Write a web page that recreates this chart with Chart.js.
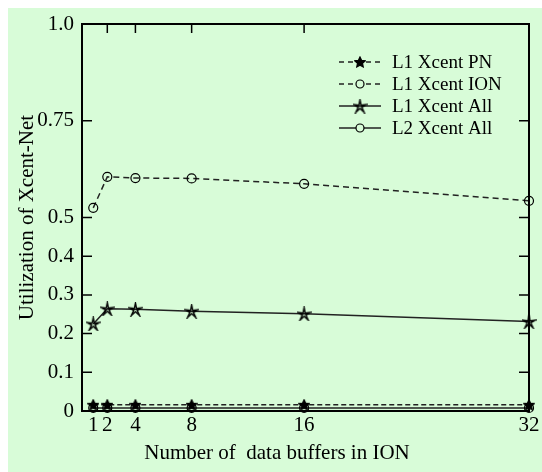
<!DOCTYPE html>
<html>
<head>
<meta charset="utf-8">
<script src="https://cdn.jsdelivr.net/npm/chart.js@4/dist/chart.umd.min.js"></script>
<style>
  html, body { margin: 0; padding: 0; background: #fff; }
  canvas { display: block; }
</style>
</head>
<body>
<canvas id="chart" width="542" height="472"></canvas>
<script>
// data
const buffers = [1, 2, 4, 8, 16, 32];
const l1PN = [0.016, 0.016, 0.016, 0.016, 0.016, 0.016];
const l1ION = [0.525, 0.605, 0.602, 0.601, 0.587, 0.543];
const l1All = [0.225, 0.264, 0.263, 0.258, 0.251, 0.231];
const l2All = [0.008, 0.008, 0.008, 0.008, 0.008, 0.008];
const seriesNames = ["L1 Xcent PN", "L1 Xcent ION", "L1 Xcent All", "L2 Xcent All"];
const yTicks = [0, 0.1, 0.2, 0.3, 0.4, 0.5, 0.75, 1.0];
const yTickLabels = ["0", "0.1", "0.2", "0.3", "0.4", "0.5", "0.75", "1.0"];
const xTitle = "Number of  data buffers in ION";
const yTitle = "Utilization of Xcent-Net";

const GREEN = "#d8fcd8";
const FONT = "'Liberation Serif', 'Times New Roman', serif";

function makeStar(size, filled) {
  const c = document.createElement("canvas");
  c.width = size;
  c.height = size;
  const g = c.getContext("2d");
  const cx = size / 2, cy = size / 2 + size * 0.04;
  g.beginPath();
  for (let i = 0; i < 10; i++) {
    const r = i % 2 ? size * (filled ? 0.22 : 0.12) : size * 0.46;
    const a = -Math.PI / 2 + i * Math.PI / 5;
    const px = cx + r * Math.cos(a), py = cy + r * Math.sin(a);
    if (i === 0) g.moveTo(px, py); else g.lineTo(px, py);
  }
  g.closePath();
  g.strokeStyle = "#000";
  g.lineWidth = filled ? 1.2 : 1.4;
  if (filled) { g.fillStyle = "#000"; g.fill(); }
  g.stroke();
  return c;
}

const starOpen = makeStar(15, false);
const starFilled = makeStar(12, true);

const toXY = vals => vals.map((v, i) => ({ x: buffers[i], y: v }));

const datasets = [
  {
    label: seriesNames[0], data: toXY(l1PN),
    borderColor: "#222", borderWidth: 1.5, borderDash: [5, 3],
    pointStyle: starFilled, pointRadius: 6, clip: false
  },
  {
    label: seriesNames[1], data: toXY(l1ION),
    borderColor: "#222", borderWidth: 1.5, borderDash: [6, 4],
    pointStyle: "circle", pointRadius: 4.5, pointBorderWidth: 1.2,
    pointBorderColor: "#000", pointBackgroundColor: "rgba(0,0,0,0)", clip: false
  },
  {
    label: seriesNames[2], data: toXY(l1All),
    borderColor: "#222", borderWidth: 1.5,
    pointStyle: starOpen, pointRadius: 7, clip: false
  },
  {
    label: seriesNames[3], data: toXY(l2All),
    borderColor: "#222", borderWidth: 1.5,
    pointStyle: "circle", pointRadius: 4.5, pointBorderWidth: 1.2,
    pointBorderColor: "#000", pointBackgroundColor: "rgba(0,0,0,0)", clip: false
  }
];

const decor = {
  id: "decor",
  beforeDraw(chart) {
    const c = chart.ctx;
    c.save();
    c.fillStyle = GREEN;
    c.fillRect(8, 8, chart.width - 8, chart.height - 8);
    c.restore();
  },
  afterDatasetsDraw(chart) {
    const c = chart.ctx;
    const a = chart.chartArea;
    const xs = chart.scales.x, ys = chart.scales.y;
    c.save();
    c.strokeStyle = "#000";
    c.lineWidth = 2;
    c.strokeRect(a.left, a.top, a.right - a.left, a.bottom - a.top);

    c.lineWidth = 1.5;
    c.beginPath();
    yTicks.forEach(v => {
      const y = ys.getPixelForValue(v);
      if (v > 0 && v < 1) {
        c.moveTo(a.left, y); c.lineTo(a.left + 10, y);
        c.moveTo(a.right, y); c.lineTo(a.right - 10, y);
      }
    });
    buffers.forEach(v => {
      if (v > 1 && v < 32) {
        const x = xs.getPixelForValue(v);
        c.moveTo(x, a.top); c.lineTo(x, a.top + 9);
      }
    });
    c.stroke();

    // axis titles
    c.fillStyle = "#000";
    c.font = "21px " + FONT;
    c.textAlign = "center";
    c.textBaseline = "middle";
    c.fillText(xTitle, 277, 453);
    c.translate(27, (a.top + a.bottom) / 2);
    c.rotate(-Math.PI / 2);
    c.fillText(yTitle, 0, 0);
    c.restore();

    // legend
    c.save();
    const rows = [62, 84, 106, 128];
    c.font = "19px " + FONT;
    c.textBaseline = "middle";
    c.textAlign = "left";
    chart.data.datasets.forEach((ds, i) => {
      const y = rows[i];
      c.strokeStyle = "#222";
      c.lineWidth = 1.5;
      c.setLineDash(ds.borderDash ? [5, 4] : []);
      c.beginPath();
      c.moveTo(339, y); c.lineTo(381, y);
      c.stroke();
      c.setLineDash([]);
      if (ds.pointStyle === "circle") {
        c.fillStyle = GREEN;
        c.lineWidth = 1.2;
        c.strokeStyle = "#000";
        c.beginPath();
        c.arc(360, y, 4, 0, Math.PI * 2);
        c.fill();
        c.stroke();
      } else {
        const img = ds.pointStyle;
        c.drawImage(img, 360 - img.width / 2, y - img.height / 2);
      }
      c.fillStyle = "#000";
      c.fillText(ds.label, 392, y + 1);
    });
    c.restore();
  }
};

new Chart(document.getElementById("chart"), {
  type: "line",
  data: { datasets },
  plugins: [decor],
  options: {
    responsive: false,
    animation: false,
    layout: { padding: { top: 24, right: 13, left: 0, bottom: 0 } },
    plugins: { legend: { display: false }, tooltip: { enabled: false } },
    scales: {
      x: {
        type: "linear",
        min: 0.2,
        max: 32,
        afterBuildTicks: s => { s.ticks = buffers.map(v => ({ value: v })); },
        afterFit: s => { s.height = 61; },
        grid: { display: false, drawTicks: false },
        border: { display: false },
        ticks: {
          autoSkip: false, maxRotation: 0, padding: 2, color: "#000",
          font: { family: FONT, size: 21 },
          callback: v => String(v)
        }
      },
      y: {
        type: "linear",
        min: 0,
        max: 1,
        afterBuildTicks: s => { s.ticks = yTicks.map(v => ({ value: v })); },
        afterFit: s => { s.width = 82; },
        grid: { display: false, drawTicks: false },
        border: { display: false },
        ticks: {
          padding: 8, color: "#000",
          font: { family: FONT, size: 21 },
          callback: (v, i) => yTickLabels[i]
        }
      }
    }
  }
});
</script>
</body>
</html>
